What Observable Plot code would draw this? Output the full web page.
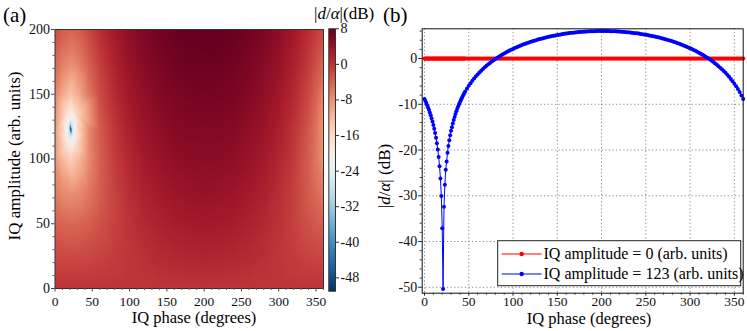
<!DOCTYPE html>
<html>
<head>
<meta charset="utf-8">
<script src="https://cdn.jsdelivr.net/npm/d3@7"></script>
<script src="https://cdn.jsdelivr.net/npm/@observablehq/plot@0.6"></script>
<style>
  html, body { margin: 0; padding: 0; background: #fff; }
  #root { position: relative; width: 747px; height: 331px; overflow: hidden; font-family: "Liberation Serif", serif; }
  #root > svg, #root > figure { position: absolute; top: 0; margin: 0; }
</style>
</head>
<body>
<div id="root"></div>
<script>
// ---------- Panel (a): heat map |d/alpha| (dB) vs IQ phase and IQ amplitude ----------
const heatPhases = [0, 10, 21, 32, 45, 60, 80, 100, 120, 140, 160, 180, 200, 220, 240, 260, 280, 300, 320, 340, 350, 360];
const heatAmps = [0, 25, 50, 75, 100, 123, 150, 175, 200];
const heatDb = [
  [0, 0, 0, 0, 0, 0, 0, 0, 0, 0, 0, 0, 0, 0, 0, 0, 0, 0, 0, 0, 0, 0],
  [-1.79, -1.92, -1.97, -1.92, -1.74, -1.39, -0.80, -0.16, 0.43, 0.93, 1.30, 1.53, 1.61, 1.54, 1.33, 0.97, 0.49, -0.10, -0.74, -1.34, -1.59, -1.79],
  [-3.91, -4.35, -4.53, -4.35, -3.74, -2.73, -1.27, 0.04, 1.11, 1.93, 2.50, 2.84, 2.96, 2.86, 2.55, 2.00, 1.21, 0.16, -1.13, -2.58, -3.29, -3.91],
  [-6.32, -7.58, -8.17, -7.58, -5.89, -3.73, -1.29, 0.57, 1.94, 2.93, 3.60, 4.00, 4.14, 4.02, 3.65, 3.01, 2.05, 0.72, -1.08, -3.45, -4.86, -6.32],
  [-8.45, -11.88, -14.56, -11.88, -7.56, -4.01, -0.84, 1.31, 2.82, 3.89, 4.61, 5.02, 5.17, 5.05, 4.66, 3.98, 2.95, 1.48, -0.59, -3.63, -5.73, -8.45],
  [-8.77, -14.34, -51, -14.34, -7.62, -3.51, -0.13, 2.09, 3.64, 4.73, 5.45, 5.87, 6.02, 5.90, 5.51, 4.81, 3.77, 2.27, 0.13, -3.09, -5.44, -8.77],
  [-6.77, -10.31, -13.17, -10.31, -5.86, -2.28, 0.90, 3.06, 4.58, 5.65, 6.36, 6.78, 6.92, 6.81, 6.42, 5.73, 4.70, 3.23, 1.16, -1.89, -4.02, -6.77],
  [-4.35, -6.36, -7.48, -6.36, -3.72, -0.90, 1.93, 3.95, 5.40, 6.44, 7.14, 7.54, 7.69, 7.57, 7.19, 6.52, 5.52, 4.12, 2.16, -0.57, -2.33, -4.35],
  [-2.16, -3.45, -4.07, -3.45, -1.72, 0.48, 2.94, 4.80, 6.18, 7.18, 7.85, 8.25, 8.39, 8.27, 7.90, 7.26, 6.30, 4.96, 3.15, 0.75, -0.67, -2.16]
];
// extra samples read around the deep null near (21 deg, 123)
const spotPhase = [19, 23, 17, 25, 14, 28, 21, 21, 21, 21, 21, 21, 19, 23, 19, 23, 17, 25, 17, 25, 14, 28, 14, 28];
const spotAmp   = [123, 123, 123, 123, 123, 123, 119, 127, 115, 131, 110, 136, 119, 119, 127, 127, 115, 115, 131, 131, 110, 110, 136, 136];
const spotDb    = [-29.1, -29.1, -23.1, -23.1, -18.3, -18.3, -29.8, -29.8, -23.7, -23.7, -19.5, -19.5, -26.5, -26.5, -26.4, -26.4, -20.6, -20.6, -20.3, -20.3, -16.1, -16.1, -15.6, -15.6];

const xTicksA = [0, 50, 100, 150, 200, 250, 300, 350];
const xMinorA = [10, 20, 30, 40, 60, 70, 80, 90, 110, 120, 130, 140, 160, 170, 180, 190, 210, 220, 230, 240, 260, 270, 280, 290, 310, 320, 330, 340, 360];
const yTicksA = [0, 50, 100, 150, 200];
const yMinorA = [10, 20, 30, 40, 60, 70, 80, 90, 110, 120, 130, 140, 160, 170, 180, 190];
const cbTicks = [8, 0, -8, -16, -24, -32, -40, -48];

// ---------- Panel (b): cuts at IQ amplitude 0 and 123 ----------
const phases = [0, 1, 2, 3, 4, 5, 6, 7, 8, 9, 10, 11, 12, 13, 14, 15, 16, 17, 18, 19, 20, 21, 22, 23, 24, 25, 26, 27, 28, 29, 30, 31, 32, 33, 34, 35, 36, 37, 38, 39, 40, 41, 42, 43, 44, 45,
  46, 48, 50, 52, 54, 56, 58, 60, 62, 64, 66, 68, 70, 72, 74, 76, 78, 80, 82, 84, 86, 88, 90, 92, 94, 96, 98, 100,
  102, 104, 106, 108, 110, 112, 114, 116, 118, 120, 122, 124, 126, 128, 130, 132, 134, 136, 138, 140, 142, 144, 146, 148, 150,
  152, 154, 156, 158, 160, 162, 164, 166, 168, 170, 172, 174, 176, 178, 180, 182, 184, 186, 188, 190, 192, 194, 196, 198, 200,
  202, 204, 206, 208, 210, 212, 214, 216, 218, 220, 222, 224, 226, 228, 230, 232, 234, 236, 238, 240, 242, 244, 246, 248, 250,
  252, 254, 256, 258, 260, 262, 264, 266, 268, 270, 272, 274, 276, 278, 280, 282, 284, 286, 288, 290, 292, 294, 296, 298, 300,
  302, 304, 306, 308, 310, 312, 314, 316, 318, 320, 322, 324, 326, 328, 330, 332, 334, 336, 338, 340, 342, 344, 346, 348, 350,
  352, 354, 356, 358, 360];
const blueDb = [-8.85, -9.27, -9.72, -10.19, -10.69, -11.22, -11.78, -12.39, -13.04, -13.74, -14.51, -15.35, -16.28, -17.33, -18.52, -19.90, -21.54, -23.57, -26.22, -30.06, -37.10, -50.4, -32.4, -27.6, -24.3, -22.5, -20.6, -19.1, -17.85, -16.75, -15.8, -15.00, -14.19, -13.45, -12.77, -12.14, -11.55, -11.00, -10.48, -10.00, -9.54, -9.10, -8.69, -8.29, -7.91, -7.55,
  -7.20, -6.55, -5.95, -5.39, -4.86, -4.37, -3.90, -3.47, -3.05, -2.66, -2.29, -1.93, -1.59, -1.27, -0.96, -0.66, -0.38, -0.11, 0.16, 0.41, 0.65, 0.88, 1.11, 1.32, 1.53, 1.73, 1.92, 2.11,
  2.29, 2.46, 2.63, 2.79, 2.95, 3.10, 3.25, 3.39, 3.52, 3.65, 3.78, 3.90, 4.02, 4.14, 4.25, 4.35, 4.45, 4.55, 4.65, 4.74, 4.82, 4.91, 4.99, 5.06, 5.14,
  5.21, 5.28, 5.34, 5.40, 5.46, 5.51, 5.57, 5.61, 5.66, 5.70, 5.74, 5.78, 5.82, 5.85, 5.88, 5.90, 5.93, 5.95, 5.97, 5.98, 5.99, 6.01, 6.01, 6.02, 6.02,
  6.02, 6.02, 6.01, 6.00, 5.99, 5.98, 5.96, 5.94, 5.92, 5.90, 5.87, 5.84, 5.81, 5.77, 5.74, 5.69, 5.65, 5.60, 5.55, 5.50, 5.45, 5.39, 5.33, 5.26, 5.19,
  5.12, 5.05, 4.97, 4.89, 4.81, 4.72, 4.63, 4.53, 4.43, 4.33, 4.22, 4.11, 4.00, 3.88, 3.76, 3.63, 3.50, 3.36, 3.22, 3.07, 2.92, 2.76, 2.60, 2.43, 2.25,
  2.07, 1.88, 1.69, 1.49, 1.28, 1.06, 0.84, 0.60, 0.36, 0.10, -0.16, -0.43, -0.72, -1.02, -1.33, -1.66, -2.00, -2.36, -2.74, -3.13, -3.55, -4.00, -4.46, -4.96, -5.50,
  -6.07, -6.68, -7.34, -8.06, -8.85];
const redDb = [
  0, 0, 0, 0, 0, 0, 0, 0, 0, 0, 0, 0, 0, 0, 0, 0, 0,
  0, 0, 0, 0, 0, 0, 0, 0, 0, 0, 0, 0, 0, 0, 0, 0, 0,
  0, 0, 0, 0, 0, 0, 0, 0, 0, 0, 0, 0, 0, 0, 0, 0, 0,
  0, 0, 0, 0, 0, 0, 0, 0, 0, 0, 0, 0, 0, 0, 0, 0, 0,
  0, 0, 0, 0, 0, 0, 0, 0, 0, 0, 0, 0, 0, 0, 0, 0, 0,
  0, 0, 0, 0, 0, 0, 0, 0, 0, 0, 0, 0, 0, 0, 0, 0, 0,
  0, 0, 0, 0, 0, 0, 0, 0, 0, 0, 0, 0, 0, 0, 0, 0, 0,
  0, 0, 0, 0, 0, 0, 0, 0, 0, 0, 0, 0, 0, 0, 0, 0, 0,
  0, 0, 0, 0, 0, 0, 0, 0, 0, 0, 0, 0, 0, 0, 0, 0, 0,
  0, 0, 0, 0, 0, 0, 0, 0, 0, 0, 0, 0, 0, 0, 0, 0, 0,
  0, 0, 0, 0, 0, 0, 0, 0, 0, 0, 0, 0, 0, 0, 0, 0, 0,
  0, 0, 0, 0, 0, 0, 0, 0, 0, 0, 0, 0, 0, 0, 0, 0, 0];
const seriesLabels = ["IQ amplitude = 0 (arb. units)", "IQ amplitude = 123 (arb. units)"];
const xTicksB = [0, 50, 100, 150, 200, 250, 300, 350];
const xMinorB = [10, 20, 30, 40, 60, 70, 80, 90, 110, 120, 130, 140, 160, 170, 180, 190, 210, 220, 230, 240, 260, 270, 280, 290, 310, 320, 330, 340, 360];
const yTicksB = [0, -10, -20, -30, -40, -50];
const yMinorB = [6, 4, 2, -2, -4, -6, -8, -12, -14, -16, -18, -22, -24, -26, -28, -32, -34, -36, -38, -42, -44, -46, -48];

// ---------- build tables ----------
const heat = [];
heatAmps.forEach((a, i) => heatPhases.forEach((p, j) => heat.push({phase: p, amp: a, db: heatDb[i][j]})));
spotPhase.forEach((p, i) => heat.push({phase: p, amp: spotAmp[i], db: spotDb[i]}));
const blueData = phases.map((p, i) => ({phase: p, db: blueDb[i]}));
const redData = phases.map((p, i) => ({phase: p, db: redDb[i]}));

const fmt = d => String(d);
const none = () => "";
const colorOpts = {type: "linear", domain: [-51, 8], scheme: "RdBu", reverse: true};
const baseStyle = {fontFamily: "Liberation Serif, serif", fontSize: "14px", background: "transparent", color: "#111", overflow: "visible"};
const root = document.getElementById("root");

const plotA = Plot.plot({
  width: 330, height: 331,
  marginLeft: 54.5, marginRight: 7, marginTop: 29, marginBottom: 43,
  x: {domain: [0, 360], label: null},
  y: {domain: [0, 200], label: null},
  color: colorOpts,
  style: baseStyle,
  marks: [
    Plot.raster(heat, {x: "phase", y: "amp", fill: "db", interpolate: "barycentric", x1: 0, y1: 0, x2: 360, y2: 200}),
    Plot.frame({stroke: "#333"}),
    Plot.axisX(xMinorA, {tickSize: 2, tickFormat: none, stroke: "#555", label: null}),
    Plot.axisX(xTicksA, {tickSize: 3.5, tickPadding: 4, fontSize: 13.5, tickFormat: fmt, stroke: "#444", label: null}),
    Plot.axisY(yMinorA, {tickSize: 2, tickFormat: none, stroke: "#555", label: null}),
    Plot.axisY(yTicksA, {tickSize: 3.5, tickPadding: 1.5, tickFormat: fmt, stroke: "#444", label: null})
  ]
});
plotA.style.left = "0px";
root.appendChild(plotA);

const plotCb = Plot.plot({
  width: 70, height: 331,
  marginLeft: 8.3, marginRight: 55, marginTop: 28.3, marginBottom: 40.3,
  x: {domain: [0, 1], axis: null, label: null},
  y: {domain: [-51, 8], label: null},
  color: colorOpts,
  style: baseStyle,
  marks: [
    Plot.raster({fill: (x, y) => y, x1: 0, x2: 1, y1: -51, y2: 8}),
    Plot.frame({stroke: "#333"}),
    Plot.axisY(cbTicks, {anchor: "right", tickSize: 3, tickPadding: 2, tickFormat: fmt, stroke: "#333", label: null})
  ]
});
plotCb.style.left = "320px";
root.appendChild(plotCb);

const plotB = Plot.plot({
  width: 377, height: 331,
  marginLeft: 51.7, marginRight: 4.3, marginTop: 28.3, marginBottom: 38.3,
  x: {domain: [-2.6, 360], label: null},
  y: {domain: [-51.3, 6.5], label: null},
  style: baseStyle,
  marks: [
    Plot.gridX(xTicksB, {stroke: "#888", strokeOpacity: 1, strokeDasharray: "1.2,2.4"}),
    Plot.gridY(yTicksB, {stroke: "#888", strokeOpacity: 1, strokeDasharray: "1.2,2.4"}),
    Plot.line(redData, {x: "phase", y: "db", stroke: "#ff0000", strokeWidth: 1}),
    Plot.dot(redData, {x: "phase", y: "db", r: 2.1, fill: "#ff0000"}),
    Plot.line(blueData, {x: "phase", y: "db", stroke: "#0000ff", strokeWidth: 1}),
    Plot.dot(blueData, {x: "phase", y: "db", r: 2.0, fill: "#0000ff"}),
    Plot.frame({stroke: "#111"}),
    Plot.axisX(xMinorB, {tickSize: 2, tickFormat: none, stroke: "#333", label: null}),
    Plot.axisX(xTicksB, {tickSize: 3, tickPadding: 0, fontSize: 13.5, tickFormat: fmt, stroke: "#222", label: null}),
    Plot.axisY(yMinorB, {tickSize: 2, tickFormat: none, stroke: "#333", label: null}),
    Plot.axisY(yTicksB, {tickSize: 3.5, tickPadding: 1.5, tickFormat: fmt, stroke: "#222", label: null})
  ]
});
plotB.style.left = "370px";
root.appendChild(plotB);

// ---------- text overlay: titles, panel letters, legend ----------
const ns = "http://www.w3.org/2000/svg";
const ov = document.createElementNS(ns, "svg");
ov.setAttribute("width", 747); ov.setAttribute("height", 331);
ov.style.left = "0px"; ov.style.pointerEvents = "none";
ov.setAttribute("font-family", "Liberation Serif, serif");
ov.innerHTML = `
  <text x="3" y="22" font-size="21">(a)</text>
  <text x="383" y="22" font-size="21">(b)</text>
  <text x="314" y="18.5" font-size="17">|<tspan font-style="italic">d</tspan>/<tspan font-style="italic">α</tspan>|(dB)</text>
  <text x="194" y="323" font-size="16.5" text-anchor="middle">IQ phase (degrees)</text>
  <text x="589" y="323.5" font-size="16.5" text-anchor="middle">IQ phase (degrees)</text>
  <text transform="translate(19.5,156) rotate(-90)" font-size="17" text-anchor="middle">IQ amplitude (arb. units)</text>
  <text transform="translate(389.5,176) rotate(-90)" font-size="17" text-anchor="middle">|<tspan font-style="italic">d</tspan>/<tspan font-style="italic">α</tspan>| (dB)</text>
  <rect x="497.7" y="240.7" width="243" height="45" fill="#fff" stroke="#222" stroke-width="1"/>
  <line x1="501.7" x2="541.7" y1="254" y2="254" stroke="#ff0000" stroke-width="1"/>
  <circle cx="521.7" cy="254" r="2.2" fill="#ff0000"/>
  <line x1="501.7" x2="541.7" y1="274" y2="274" stroke="#0000ff" stroke-width="1"/>
  <circle cx="521.7" cy="274" r="2.2" fill="#0000ff"/>
  <text x="543.5" y="258.5" font-size="16">${seriesLabels[0]}</text>
  <text x="543.5" y="278.5" font-size="16">${seriesLabels[1]}</text>
`;
root.appendChild(ov);
</script>
</body>
</html>
